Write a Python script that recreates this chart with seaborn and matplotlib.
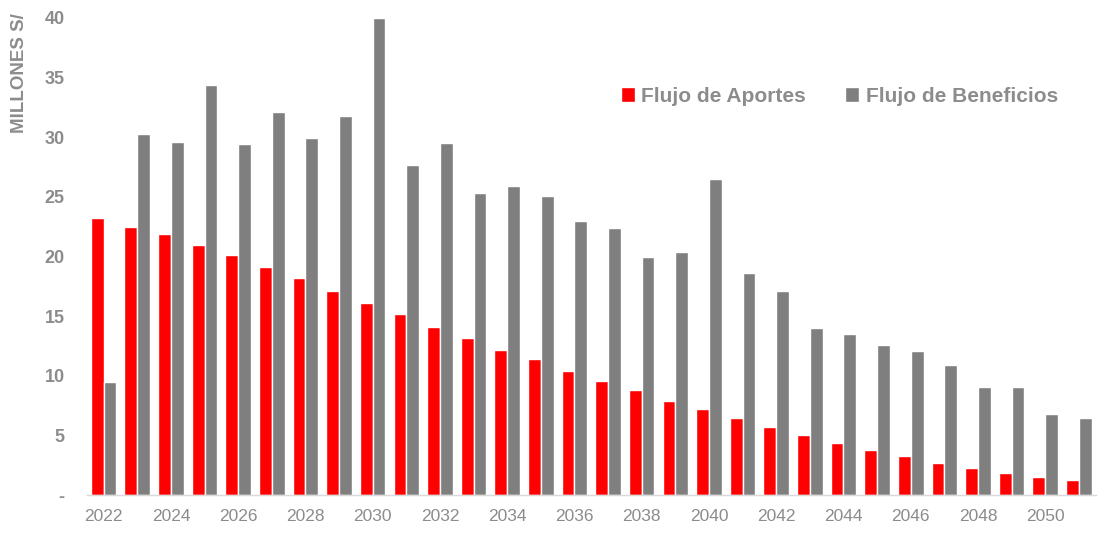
import matplotlib
matplotlib.use("Agg")
import matplotlib.pyplot as plt
import seaborn as sns
import pandas as pd

years = list(range(2022, 2052))
aportes = [23.2, 22.5, 21.9, 21.0, 20.1, 19.1, 18.2, 17.1, 16.1, 15.2,
           14.1, 13.2, 12.2, 11.4, 10.4, 9.6, 8.85, 7.85, 7.2, 6.5,
           5.7, 5.0, 4.4, 3.8, 3.3, 2.7, 2.3, 1.85, 1.5, 1.25]
beneficios = [9.5, 30.3, 29.6, 34.4, 29.4, 32.1, 29.9, 31.8, 40.0, 27.7,
              29.5, 25.3, 25.9, 25.1, 23.0, 22.4, 20.0, 20.4, 26.5, 18.6,
              17.1, 14.0, 13.5, 12.6, 12.1, 10.9, 9.1, 9.1, 6.8, 6.5]
series = ["Flujo de Aportes", "Flujo de Beneficios"]
colors = ["#ff0000", "#7f7f7f"]
y_ticks = [0, 5, 10, 15, 20, 25, 30, 35, 40]
y_labels = ["-", "5", "10", "15", "20", "25", "30", "35", "40"]

df = pd.DataFrame({
    "year": years * 2,
    "valor": aportes + beneficios,
    "serie": [series[0]] * len(years) + [series[1]] * len(years),
})

sns.set_style("white")
plt.rcParams["font.family"] = ["Liberation Sans", "DejaVu Sans"]
txt = "#8c8c8c"

fig = plt.figure(figsize=(10.99, 5.33), dpi=100)
ax = fig.add_axes([0.079, 0.071, 0.918, 0.9])

sns.barplot(data=df, x="year", y="valor", hue="serie", palette=colors,
            width=0.76, gap=0, saturation=1, ax=ax)

ax.set_ylim(0, 40.2)
ax.set_xlim(-0.5, len(years) - 0.5)
ax.set_yticks(y_ticks)
ax.set_yticklabels(y_labels, fontsize=13, fontweight="bold", color=txt)
ax.set_xticks(range(0, len(years), 2))
ax.set_xticklabels([str(y) for y in years[::2]], fontsize=12.5, color=txt)
ax.tick_params(axis="both", length=0)
ax.tick_params(axis="y", pad=16)
ax.tick_params(axis="x", pad=10)
ax.set_xlabel("")
ax.set_ylabel("")
for s in ["top", "right", "left"]:
    ax.spines[s].set_visible(False)
ax.spines["bottom"].set_color("#d9d9d9")
ax.spines["bottom"].set_linewidth(1)

fig.text(0.018, 0.975, "MILLONES S/", rotation=90, va="top", ha="center",
         fontsize=13.5, fontweight="bold", color=txt)

leg = ax.legend(loc="upper right", bbox_to_anchor=(0.981, 0.89), ncol=2,
                frameon=False, handlelength=0.7, handleheight=0.7,
                handletextpad=0.3, columnspacing=1.85,
                prop={"size": 15, "weight": "bold"})
for t in leg.get_texts():
    t.set_color(txt)

fig.savefig("out.png", dpi=100)
